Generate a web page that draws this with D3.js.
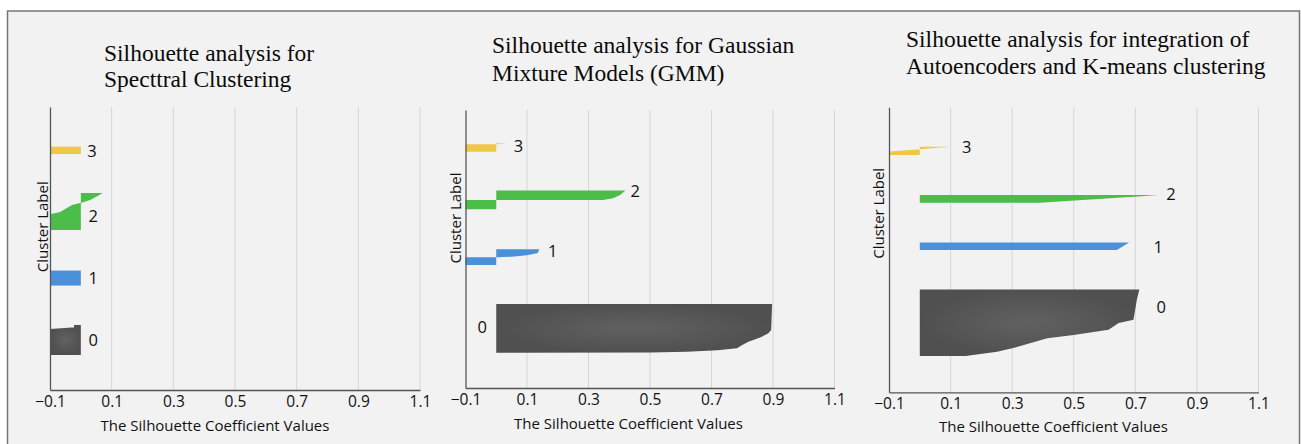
<!DOCTYPE html>
<html>
<head>
<meta charset="utf-8">
<script src="https://cdn.jsdelivr.net/npm/d3@7"></script>
<style>
  body { margin: 0; background: #fff; }
  svg { display: block; }
</style>
</head>
<body>
<svg width="1301" height="444"></svg>
<script>
// x axis ticks shared by the three panels
const xTickValues = [-0.1, 0.1, 0.3, 0.5, 0.7, 0.9, 1.1];
const clusterIds = [0, 1, 2, 3];

// titles
const spectralTitle = ['Silhouette analysis for', 'Specttral Clustering'];
const gmmTitle = ['Silhouette analysis for Gaussian', 'Mixture Models (GMM)'];
const aekmTitle = ['Silhouette analysis for integration of', 'Autoencoders and K-means clustering'];

// cluster extents on the sample axis (0..100), one [lower, upper] per cluster 0..3
const spectralBands = [[12.4, 23.0], [36.9, 42.2], [56.5, 69.6], [83.4, 86.0]];
const gmmBands = [[12.7, 30.2], [44.2, 49.9], [64.3, 71.0], [85.0, 88.0]];
const aekmBands = [[12.7, 36.1], [49.9, 52.6], [66.5, 69.2], [83.3, 86.2]];

// sorted silhouette values: [share of the cluster from bottom, coefficient]
const spectralSil0 = [[0, -0.1], [0.867, -0.1], [0.91, -0.03], [0.91, -0.022], [1, -0.022]];
const spectralSil1 = [[0, -0.1], [1, -0.1]];
const spectralSil2 = [[0, -0.1], [0.43, -0.1], [0.486, -0.067], [0.676, -0.029], [0.73, -0.003],
  [0.73, 0.0], [0.81, 0.03], [0.9, 0.05], [1, 0.071]];
const spectralSil3 = [[0, -0.1], [1, -0.1]];

const gmmSil0 = [[0, 0.0], [0.005, 0.5], [0.02, 0.62], [0.05, 0.72], [0.09, 0.783], [0.16, 0.8],
  [0.226, 0.82], [0.28, 0.845], [0.33, 0.864], [0.4, 0.885], [0.465, 0.894], [1, 0.897]];
const gmmSil1 = [[0, -0.1], [0.5, -0.1], [0.5, 0.0], [0.53, 0.05], [0.62, 0.1], [0.76, 0.135], [1, 0.14]];
const gmmSil2 = [[0, -0.1], [0.5, -0.1], [0.5, 0.348], [0.59, 0.38], [0.77, 0.403], [1, 0.42]];
const gmmSil3 = [[0, -0.1], [0.88, -0.1], [0.885, 0.005], [1, 0.033]];

const aekmSil0 = [[0, 0.149], [0.065, 0.251], [0.117, 0.30], [0.268, 0.414], [0.318, 0.5],
  [0.394, 0.613], [0.495, 0.646], [0.545, 0.694], [0.848, 0.705], [1, 0.713]];
const aekmSil1 = [[0, 0.64], [1, 0.68]];
const aekmSil2 = [[0, 0.0], [0.01, 0.39], [0.5, 0.58], [0.85, 0.72], [1, 0.775]];
const aekmSil3 = [[0, -0.1], [0.4, -0.1], [0.68, 0.0], [1, 0.1]];

// where the cluster number sits: [coefficient, sample position]
const spectralLabelPos = [[0.04, 17.7], [0.04, 39.9], [0.04, 61.5], [0.036, 84.8]];
const gmmLabelPos = [[-0.046, 22.1], [0.184, 49.6], [0.452, 71.2], [0.072, 87.4]];
const aekmLabelPos = [[0.784, 30.0], [0.774, 51.1], [0.816, 69.6], [0.152, 86.2]];

const clusterColors = ['url(#grayGrad)', '#4a91da', '#4dbd4a', '#efc84a'];

const svg = d3.select('svg');

// gradient for the dark cluster
const defs = svg.append('defs');
const grad = defs.append('radialGradient').attr('id', 'grayGrad');
grad.append('stop').attr('offset', '0%').attr('stop-color', '#616161');
grad.append('stop').attr('offset', '100%').attr('stop-color', '#505050');

// outer frame
svg.append('rect')
  .attr('x', 7.5).attr('y', 11)
  .attr('width', 1292).attr('height', 440)
  .attr('fill', '#f2f2f2')
  .attr('stroke', '#777')
  .attr('stroke-width', 1.5);

const panels = [
  { title: spectralTitle, bands: spectralBands, sil: [spectralSil0, spectralSil1, spectralSil2, spectralSil3],
    labels: spectralLabelPos, xr: [50, 420], yr: [390, 107], tx: 104, ty: [61, 87.3],
    cl: [42, 226.7], at: [215, 425] },
  { title: gmmTitle, bands: gmmBands, sil: [gmmSil0, gmmSil1, gmmSil2, gmmSil3],
    labels: gmmLabelPos, xr: [465.5, 834.5], yr: [388, 110], tx: 492, ty: [53.3, 81],
    cl: [455, 218], at: [628.5, 422.7] },
  { title: aekmTitle, bands: aekmBands, sil: [aekmSil0, aekmSil1, aekmSil2, aekmSil3],
    labels: aekmLabelPos, xr: [889, 1258.5], yr: [392.3, 107.3], tx: 906, ty: [46.7, 74],
    cl: [878.3, 213.3], at: [1053.5, 425.7] }
];

panels.forEach(p => {
  const x = d3.scaleLinear().domain([-0.1, 1.1]).range(p.xr);
  const y = d3.scaleLinear().domain([0, 100]).range(p.yr);
  const g = svg.append('g');

  // grid lines
  g.selectAll('.grid')
    .data(xTickValues.slice(1))
    .enter()
    .append('line')
    .attr('x1', d => x(d)).attr('x2', d => x(d))
    .attr('y1', y(100)).attr('y2', y(0))
    .attr('stroke', '#d6d6d6')
    .attr('stroke-width', 1);

  // silhouettes
  clusterIds.forEach(c => {
    const [lo, hi] = p.bands[c];
    const area = d3.area()
      .y(d => y(lo + d[0] * (hi - lo)))
      .x0(x(0))
      .x1(d => x(Math.max(d[1], -0.1)));
    g.append('path')
      .datum(p.sil[c])
      .attr('d', area)
      .attr('fill', clusterColors[c]);

    g.append('text')
      .attr('x', x(p.labels[c][0]))
      .attr('y', y(p.labels[c][1]))
      .attr('text-anchor', 'middle')
      .attr('dominant-baseline', 'central')
      .style('font-family', '"Open Sans", sans-serif')
      .style('font-size', '16.5px')
      .style('fill', '#111')
      .text(c);
  });

  // axes
  const xAxis = d3.axisBottom(x)
    .tickValues(xTickValues)
    .tickFormat(d3.format('.1f'))
    .tickSize(0)
    .tickPadding(6);
  const ax = g.append('g')
    .attr('transform', `translate(0, ${y(0)})`)
    .call(xAxis);
  ax.select('.domain').attr('stroke', '#555').attr('stroke-width', 1.3);
  ax.selectAll('text')
    .style('font-family', '"Open Sans", sans-serif')
    .style('font-size', '15.5px')
    .style('fill', '#111');

  const ay = g.append('g')
    .attr('transform', `translate(${x(-0.1)}, 0)`)
    .call(d3.axisLeft(y).tickValues([]).tickSizeOuter(0));
  ay.select('.domain').attr('stroke', '#555').attr('stroke-width', 1.3);

  // axis titles
  g.append('text')
    .attr('x', p.at[0]).attr('y', p.at[1])
    .attr('text-anchor', 'middle')
    .attr('dominant-baseline', 'central')
    .style('font-family', '"Open Sans", sans-serif')
    .style('font-size', '15px')
    .style('fill', '#111')
    .text('The Silhouette Coefficient Values');

  g.append('text')
    .attr('transform', `translate(${p.cl[0]}, ${p.cl[1]}) rotate(-90)`)
    .attr('text-anchor', 'middle')
    .attr('dominant-baseline', 'central')
    .style('font-family', '"Open Sans", sans-serif')
    .style('font-size', '15px')
    .style('fill', '#111')
    .text('Cluster Label');

  // chart title, two lines
  p.title.forEach((t, i) => {
    g.append('text')
      .attr('x', p.tx).attr('y', p.ty[i])
      .style('font-family', '"Liberation Serif", "Times New Roman", serif')
      .style('font-size', '23.5px')
      .style('fill', '#0a0a0a')
      .text(t);
  });
});
</script>
</body>
</html>
